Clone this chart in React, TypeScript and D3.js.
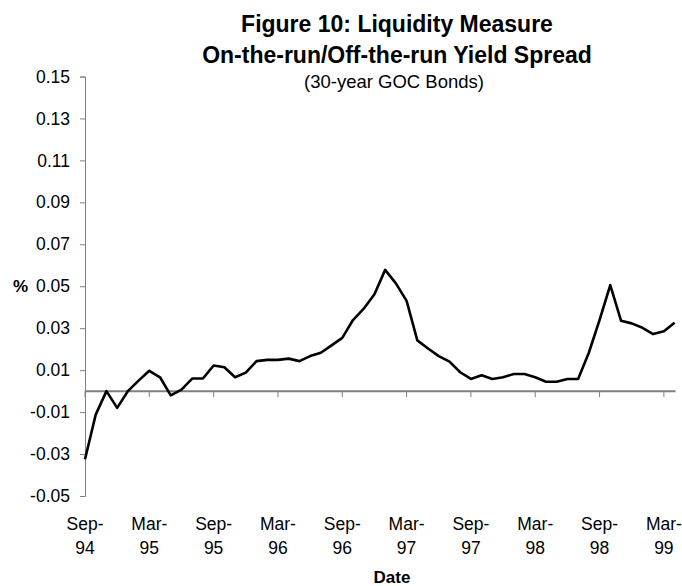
import React, { useEffect, useRef } from "react";
import * as d3 from "d3";

// monthly observations, Sep-94 .. Apr-99
const startMonth = new Date(1994, 8, 1);
const months = d3.timeMonth.range(startMonth, new Date(1999, 4, 1));

const spread = [
  -0.0325, -0.0112, 0.0, -0.008, 0.0, 0.005, 0.0097, 0.0066, -0.002, 0.0007,
  0.006, 0.006, 0.0122, 0.0114, 0.0066, 0.0088, 0.0143, 0.0149, 0.0149, 0.0155,
  0.0143, 0.0167, 0.0183, 0.0218, 0.0254, 0.0339, 0.0393, 0.0462, 0.0578, 0.0514,
  0.043, 0.0242, 0.0203, 0.0167, 0.0141, 0.009, 0.0058, 0.0076, 0.0058, 0.0066,
  0.0082, 0.0082, 0.0066, 0.0045, 0.0045, 0.0058, 0.0058, 0.0183, 0.0339, 0.0505,
  0.0336, 0.0323, 0.0302, 0.0272, 0.0285, 0.0326,
];

const xTickLabels = [
  ["Sep-", "94"], ["Mar-", "95"], ["Sep-", "95"], ["Mar-", "96"], ["Sep-", "96"],
  ["Mar-", "97"], ["Sep-", "97"], ["Mar-", "98"], ["Sep-", "98"], ["Mar-", "99"],
];
const yTicks = [-0.05, -0.03, -0.01, 0.01, 0.03, 0.05, 0.07, 0.09, 0.11, 0.13, 0.15];

const titleLines = ["Figure 10: Liquidity Measure", "On-the-run/Off-the-run Yield Spread"];
const subtitle = "(30-year GOC Bonds)";

export default function App() {
  const ref = useRef<SVGSVGElement>(null);
  const width = 682;
  const height = 586;

  useEffect(() => {
    const svg = d3.select(ref.current);
    svg.selectAll("*").remove();
    const font = "'Liberation Sans', Arial, sans-serif";

    const left = 85;
    const step = 10.72;
    const x = d3
      .scaleLinear()
      .domain([0, months.length - 1])
      .range([left, left + step * (months.length - 1)]);
    const y = d3.scaleLinear().domain([-0.05, 0.15]).range([496, 76.5]);

    // titles
    svg
      .append("g")
      .selectAll("text")
      .data(titleLines)
      .enter()
      .append("text")
      .attr("x", 397)
      .attr("y", (_, i) => 31.5 + i * 31.6)
      .attr("text-anchor", "middle")
      .style("font-family", font)
      .style("font-weight", "bold")
      .style("font-size", "23px")
      .text((d) => d);

    svg
      .append("text")
      .attr("x", 394)
      .attr("y", 88)
      .attr("text-anchor", "middle")
      .style("font-family", font)
      .style("font-size", "18.5px")
      .text(subtitle);

    // y axis (plain hyphen for negatives, as in the source)
    const yAxis = d3
      .axisLeft(y)
      .tickValues(yTicks)
      .tickFormat((d) => (d as number).toFixed(2))
      .tickSize(5)
      .tickSizeOuter(5)
      .tickPadding(10);
    const gy = svg.append("g").attr("transform", `translate(${left},0)`).call(yAxis);
    gy.select(".domain").attr("stroke", "#808080");
    gy.selectAll(".tick line").attr("stroke", "#808080");
    gy.selectAll(".tick text")
      .style("font-family", font)
      .style("font-size", "17.5px")
      .attr("fill", "#000");

    svg
      .append("text")
      .attr("x", 13)
      .attr("y", y(0.05))
      .attr("dy", "0.35em")
      .style("font-family", font)
      .style("font-weight", "bold")
      .style("font-size", "17px")
      .text("%");

    // x axis along zero
    const xEnd = x(months.length - 1) + 1;
    svg
      .append("line")
      .attr("x1", left)
      .attr("x2", xEnd)
      .attr("y1", y(0))
      .attr("y2", y(0))
      .attr("stroke", "#808080")
      .attr("stroke-width", 2);

    const tickIdx = xTickLabels.map((_, i) => i * 6);
    svg
      .append("g")
      .selectAll("line")
      .data(tickIdx)
      .enter()
      .append("line")
      .attr("x1", (d) => x(d))
      .attr("x2", (d) => x(d))
      .attr("y1", y(0))
      .attr("y2", y(0) + 6)
      .attr("stroke", "#808080")
      .attr("stroke-width", 1);

    const labels = svg
      .append("g")
      .selectAll("text")
      .data(xTickLabels)
      .enter()
      .append("text")
      .attr("text-anchor", "middle")
      .style("font-family", font)
      .style("font-size", "17.5px");
    labels
      .append("tspan")
      .attr("x", (_, i) => x(i * 6))
      .attr("y", 530)
      .text((d) => d[0]);
    labels
      .append("tspan")
      .attr("x", (_, i) => x(i * 6))
      .attr("y", 554)
      .text((d) => d[1]);

    svg
      .append("text")
      .attr("x", 392)
      .attr("y", 583)
      .attr("text-anchor", "middle")
      .style("font-family", font)
      .style("font-weight", "bold")
      .style("font-size", "17px")
      .text("Date");

    // series
    const line = d3
      .line<number>()
      .x((_, i) => x(i))
      .y((d) => y(d));
    svg
      .append("path")
      .datum(spread)
      .attr("fill", "none")
      .attr("stroke", "#000")
      .attr("stroke-width", 2.6)
      .attr("stroke-linejoin", "round")
      .attr("d", line);
  }, []);

  return (
    <div style={{ position: "absolute", left: 0, top: 0 }}>
      <svg ref={ref} width={width} height={height} style={{ display: "block", background: "#fff" }}></svg>
    </div>
  );
}
